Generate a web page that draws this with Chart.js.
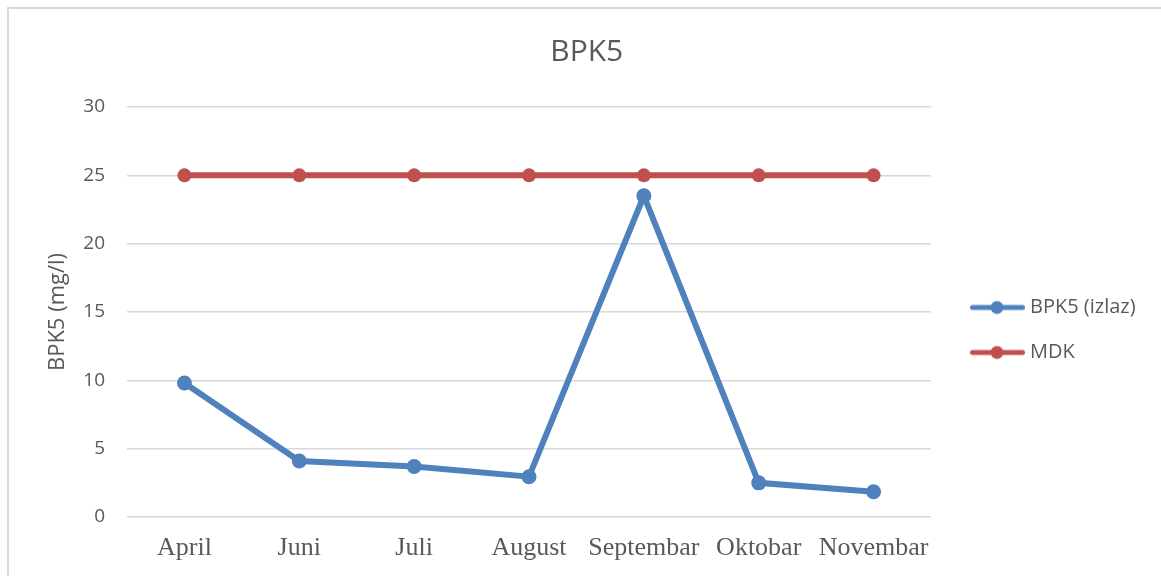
<!DOCTYPE html>
<html>
<head>
<meta charset="utf-8">
<script src="https://cdn.jsdelivr.net/npm/chart.js@4/dist/chart.umd.min.js"></script>
<style>
  html, body { margin: 0; padding: 0; background: #fff; overflow: hidden; }
  #wrap { position: relative; width: 1161px; height: 576px; }
  #frame {
    position: absolute; left: 7px; top: 7px; width: 1200px; height: 620px;
    border-left: 2px solid #d9d9d9; border-top: 2px solid #d9d9d9;
    pointer-events: none;
  }
  canvas { position: absolute; left: 0; top: 0; }
</style>
</head>
<body>
<div id="wrap">
  <canvas id="bpkChart" width="1161" height="576"></canvas>
  <div id="frame"></div>
</div>
<script>
// data
const months = ['April', 'Juni', 'Juli', 'August', 'Septembar', 'Oktobar', 'Novembar'];
const bpk5Izlaz = [9.8, 4.1, 3.7, 2.95, 23.5, 2.5, 1.85];
const mdk = [25, 25, 25, 25, 25, 25, 25];
const yTicks = [0, 5, 10, 15, 20, 25, 30];

const BLUE = '#4F81BD';
const RED = '#C0504D';
const TEXT = '#595959';
const SANS = '"Open Sans", "DejaVu Sans", sans-serif';
const SERIF = '"Liberation Serif", "Times New Roman", serif';

// legend sample: line with a marker in the middle (like Excel)
function legendIcon(color) {
    const c = document.createElement('canvas');
    c.width = 74;
    c.height = 16;
    const g = c.getContext('2d');
    g.strokeStyle = color;
    g.lineWidth = 5;
    g.lineCap = 'round';
    g.beginPath();
    g.moveTo(21.5, 8);
    g.lineTo(71.5, 8);
    g.stroke();
    g.fillStyle = color;
    g.beginPath();
    g.arc(46, 8, 6.5, 0, Math.PI * 2);
    g.fill();
    return c;
}

// keep the plot area's edges where the reference has them
const plotLeft = 127, plotRight = 931;
const leftPad = 28;
const legendFont = { family: SANS, size: 20 };
const m = document.createElement('canvas').getContext('2d');
m.font = legendFont.size + 'px ' + SANS;
const longest = Math.max(m.measureText('BPK5 (izlaz)').width, m.measureText('MDK').width);
const legendPad = 25, legendBox = 64;
const rightPad = Math.max(0, 1161 - plotRight - (legendPad + legendBox + legendFont.size / 2 + longest) - 10);

const ctx = document.getElementById('bpkChart');
new Chart(ctx, {
    type: 'line',
    data: {
        labels: months,
        datasets: [{
            label: 'BPK5 (izlaz)',
            data: bpk5Izlaz,
            borderColor: BLUE,
            backgroundColor: BLUE,
            borderWidth: 6,
            pointRadius: 7.5,
            pointBorderWidth: 0,
            pointBackgroundColor: BLUE,
            tension: 0
        }, {
            label: 'MDK',
            data: mdk,
            borderColor: RED,
            backgroundColor: RED,
            borderWidth: 6,
            pointRadius: 7,
            pointBorderWidth: 0,
            pointBackgroundColor: RED,
            tension: 0
        }]
    },
    options: {
        responsive: false,
        animation: false,
        layout: { padding: { left: leftPad, right: rightPad, top: 0, bottom: 0 } },
        scales: {
            x: {
                offset: true,
                grid: { display: false, drawTicks: false },
                border: { display: false },
                ticks: {
                    color: TEXT,
                    font: { family: SERIF, size: 26 },
                    padding: 16,
                    maxRotation: 0,
                    autoSkip: false
                },
                afterFit: function(scale) { scale.height = 59; }
            },
            y: {
                min: 0,
                max: 30,
                afterBuildTicks: function(scale) {
                    scale.ticks = yTicks.map(v => ({ value: v }));
                },
                grid: { color: '#d9d9d9', lineWidth: 1.5, drawTicks: false },
                border: { display: false },
                ticks: {
                    color: TEXT,
                    font: { family: SANS, size: 19 },
                    padding: 22
                },
                title: {
                    display: true,
                    text: 'BPK5 (mg/l)',
                    color: TEXT,
                    font: { family: SANS, size: 22 },
                    padding: { top: 17, bottom: 0 }
                },
                afterFit: function(scale) { scale.width = plotLeft - leftPad; }
            }
        },
        plugins: {
            title: {
                display: true,
                text: 'BPK5',
                color: TEXT,
                font: { family: SANS, size: 30, weight: 'normal' },
                padding: { top: 34, bottom: 37 }
            },
            legend: {
                display: true,
                position: 'right',
                title: {
                    display: true,
                    text: '',
                    font: { size: 0 },
                    padding: { top: 84, bottom: 0 }
                },
                labels: {
                    usePointStyle: true,
                    pointStyleWidth: legendBox,
                    padding: legendPad,
                    color: TEXT,
                    font: legendFont,
                    generateLabels: function(chart) {
                        const items = Chart.defaults.plugins.legend.labels.generateLabels(chart);
                        return items.map(function(it) {
                            it.pointStyle = legendIcon(chart.data.datasets[it.datasetIndex].borderColor);
                            return it;
                        });
                    }
                }
            },
            tooltip: { enabled: false }
        }
    }
});
</script>
</body>
</html>
